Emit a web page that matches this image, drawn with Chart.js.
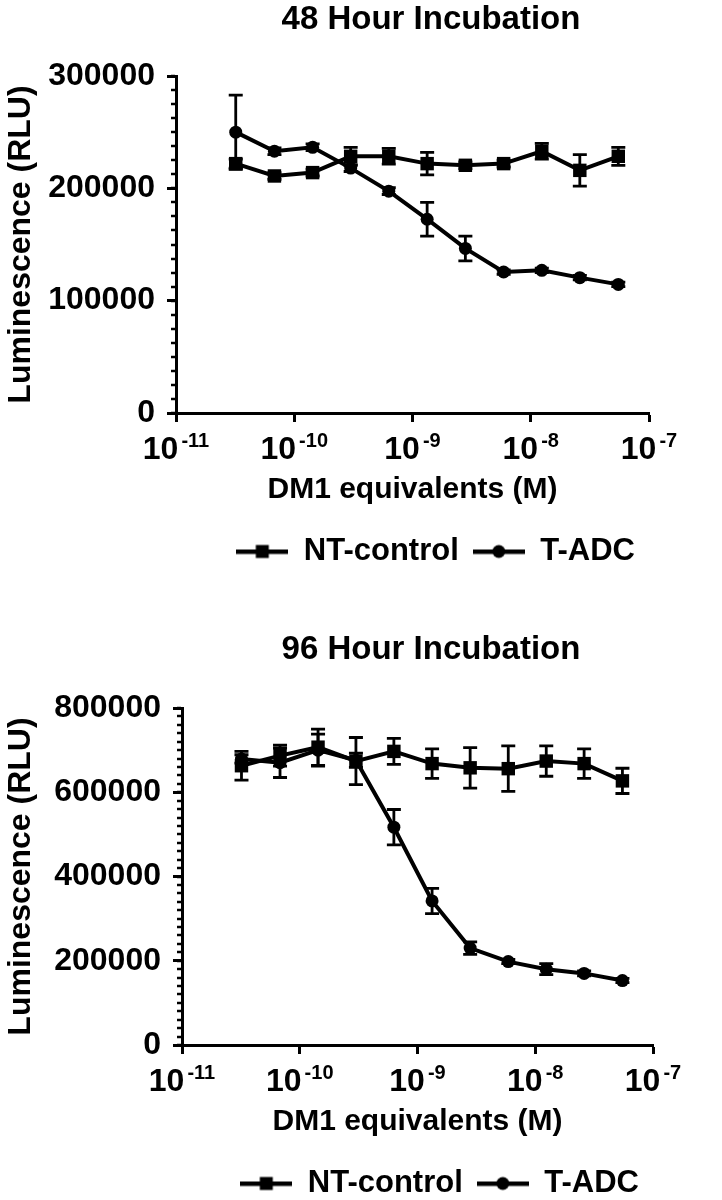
<!DOCTYPE html>
<html>
<head>
<meta charset="utf-8">
<script src="https://cdn.jsdelivr.net/npm/chart.js@4.4.1/dist/chart.umd.min.js"></script>
<style>
  html, body { margin: 0; background: #fff; overflow: hidden; }
  .panel { position: absolute; left: 0; width: 722px; }
  #p48 { top: 0; height: 600px; }
  #p96 { top: 600px; height: 620px; }
</style>
</head>
<body>
<div class="panel" id="p48"><canvas id="chart48"></canvas></div>
<div class="panel" id="p96"><canvas id="chart96"></canvas></div>
<script>
// DM1 equivalents (M)
const concentrations = [3.2e-11, 6.8e-11, 1.43e-10, 3.0e-10, 6.3e-10, 1.33e-9, 2.8e-9, 5.9e-9, 1.24e-8, 2.6e-8, 5.5e-8];
const decadeTicks = [1e-11, 1e-10, 1e-9, 1e-8, 1e-7];

// 48 h
const ntControl48 = [222000, 211000, 214000, 228500, 228500, 222000, 220500, 222000, 233000, 216000, 228500];
const ntControl48Sd = [4000, 3000, 3000, 8000, 7000, 10000, 3000, 3000, 7000, 14000, 8000];
const tAdc48 = [250000, 233000, 236500, 218000, 197500, 172500, 146500, 125500, 127000, 120500, 114500];
const tAdc48Sd = [33000, 3000, 3000, 3000, 3000, 15000, 11000, 2000, 2000, 2000, 2000];
const yTicks48 = [0, 100000, 200000, 300000];
const yMinor48 = 12500;

// 96 h
const ntControl96 = [663000, 687000, 707000, 674000, 697000, 668000, 658000, 656000, 674000, 668000, 627000];
const ntControl96Sd = [34000, 25000, 43000, 56000, 31000, 35000, 48000, 54000, 36000, 35000, 30000];
const tAdc96 = [679000, 670000, 700000, 676000, 517000, 342000, 230000, 198000, 180000, 170000, 153000];
const tAdc96Sd = [10000, 35000, 38000, 17000, 42000, 30000, 15000, 5000, 13000, 6000, 5000];
const yTicks96 = [0, 200000, 400000, 600000, 800000];
const yMinor96 = 20000;

const FONT = "'Liberation Sans', Arial, Helvetica, sans-serif";

function legendMarker(shape) {
  const c = document.createElement('canvas');
  c.width = 52; c.height = 16;
  const g = c.getContext('2d');
  g.fillStyle = '#000';
  g.fillRect(0, 6, 52, 4.5);
  g.beginPath();
  if (shape === 'rect') g.rect(19.5, 1.5, 13, 13);
  else g.arc(26, 8, 6.5, 0, Math.PI * 2);
  g.fill();
  return c;
}

const errorBars = {
  id: 'errorBars',
  beforeDatasetsDraw(chart) {
    const { ctx, scales: { x, y } } = chart;
    ctx.save();
    ctx.strokeStyle = '#000';
    ctx.lineWidth = 2.8;
    chart.data.datasets.forEach(ds => {
      ds.data.forEach((p, j) => {
        const px = x.getPixelForValue(p.x);
        const top = y.getPixelForValue(p.y + ds.sd[j]);
        const bot = y.getPixelForValue(p.y - ds.sd[j]);
        ctx.beginPath();
        ctx.moveTo(px, top); ctx.lineTo(px, bot);
        ctx.moveTo(px - 7, top); ctx.lineTo(px + 7, top);
        ctx.moveTo(px - 7, bot); ctx.lineTo(px + 7, bot);
        ctx.stroke();
      });
    });
    ctx.restore();
  }
};

const axisExtras = {
  id: 'axisExtras',
  afterDraw(chart, args, opts) {
    const { ctx, scales: { x, y } } = chart;
    ctx.save();
    ctx.fillStyle = '#000';
    ctx.strokeStyle = '#000';
    // title
    ctx.font = 'bold 33px ' + FONT;
    ctx.textAlign = 'center';
    ctx.textBaseline = 'middle';
    ctx.fillText(opts.title, opts.titleX, opts.titleY);
    // minor ticks on y
    ctx.lineWidth = 2.5;
    for (let v = y.min; v <= y.max; v += opts.minor) {
      const py = Math.round(y.getPixelForValue(v));
      ctx.beginPath();
      ctx.moveTo(x.left - 1, py);
      ctx.lineTo(x.left - 5, py);
      ctx.stroke();
    }
    // 10^n labels on x
    const base = x.top + 46;
    ctx.textAlign = 'left';
    ctx.textBaseline = 'alphabetic';
    x.ticks.forEach(t => {
      const px = x.getPixelForValue(t.value);
      const exp = String(Math.round(Math.log10(t.value)));
      ctx.font = 'bold 32px ' + FONT;
      const w1 = ctx.measureText('10').width;
      ctx.font = 'bold 20px ' + FONT;
      const w2 = ctx.measureText(exp).width;
      const left = px - (w1 + w2 + 3) / 2;
      ctx.font = 'bold 32px ' + FONT;
      ctx.fillText('10', left, base);
      ctx.font = 'bold 20px ' + FONT;
      ctx.fillText(exp, left + w1 + 3, base - 12);
    });
    ctx.restore();
  }
};

function makeChart(id, title, nt, ntSd, adc, adcSd, yTicks, minor, geom) {
  const ctx = document.getElementById(id).getContext('2d');
  return new Chart(ctx, {
    type: 'line',
    data: {
      datasets: [
        {
          label: 'NT-control',
          data: concentrations.map((c, i) => ({ x: c, y: nt[i] })),
          sd: ntSd,
          borderColor: '#000', backgroundColor: '#000', borderWidth: 4,
          pointStyle: 'rect', pointRadius: 9.5, pointBorderWidth: 0,
          pointBackgroundColor: '#000', tension: 0
        },
        {
          label: 'T-ADC',
          data: concentrations.map((c, i) => ({ x: c, y: adc[i] })),
          sd: adcSd,
          borderColor: '#000', backgroundColor: '#000', borderWidth: 4,
          pointStyle: 'circle', pointRadius: 6.5, pointBorderWidth: 0,
          pointBackgroundColor: '#000', tension: 0
        }
      ]
    },
    options: {
      responsive: true,
      maintainAspectRatio: false,
      animation: false,
      layout: { padding: { left: 0, right: geom.right, top: geom.top, bottom: geom.bottom } },
      plugins: {
        axisExtras: { minor: minor, title: title, titleX: 431, titleY: geom.titleY },
        tooltip: { enabled: false },
        title: { display: false },
        legend: {
          position: 'bottom',
          align: 'end',
          labels: {
            color: '#000', usePointStyle: true, pointStyleWidth: 52, padding: 14,
            font: { family: FONT, size: 31, weight: 'bold' },
            generateLabels: chart => chart.data.datasets.map((ds, i) => ({
              text: ds.label, datasetIndex: i, fontColor: '#000',
              pointStyle: legendMarker(i === 0 ? 'rect' : 'circle'),
              lineWidth: 0, strokeStyle: '#000', fillStyle: '#000'
            }))
          }
        }
      },
      scales: {
        x: {
          type: 'logarithmic', min: 1e-11, max: 1e-7,
          afterBuildTicks: s => { s.ticks = decadeTicks.map(v => ({ value: v })); },
          afterFit: s => { s.height = 109; },
          border: { display: true, color: '#000', width: 3 },
          grid: { display: true, drawOnChartArea: false, drawTicks: true, tickLength: 9, tickWidth: 3, tickColor: '#000' },
          ticks: { color: 'rgba(0,0,0,0)', font: { family: FONT, size: 32, weight: 'bold' }, callback: () => '10', maxRotation: 0 },
          title: {
            display: true, text: 'DM1 equivalents (M)', color: '#000',
            font: { family: FONT, size: 30, weight: 'bold' }, padding: { top: 0, bottom: 14 }
          }
        },
        y: {
          min: 0, max: yTicks[yTicks.length - 1],
          afterBuildTicks: s => { s.ticks = yTicks.map(v => ({ value: v })); },
          afterFit: s => { s.width = geom.yWidth; },
          border: { display: true, color: '#000', width: 3 },
          grid: { display: true, drawOnChartArea: false, drawTicks: true, tickLength: 9, tickWidth: 3, tickColor: '#000' },
          ticks: { color: '#000', padding: 12, font: { family: FONT, size: 32, weight: 'bold' }, callback: v => String(v) },
          title: {
            display: true, text: 'Luminescence (RLU)', color: '#000',
            font: { family: FONT, size: 32, weight: 'bold' }, padding: { top: 2, bottom: 0 }
          }
        }
      }
    },
    plugins: [errorBars, axisExtras]
  });
}

makeChart('chart48', '48 Hour Incubation', ntControl48, ntControl48Sd, tAdc48, tAdc48Sd, yTicks48, yMinor48,
  { right: 73, top: 76, bottom: 23, titleY: 20, yWidth: 176 });
makeChart('chart96', '96 Hour Incubation', ntControl96, ntControl96Sd, tAdc96, tAdc96Sd, yTicks96, yMinor96,
  { right: 69, top: 108, bottom: 11, titleY: 50, yWidth: 182 });
</script>
</body>
</html>
